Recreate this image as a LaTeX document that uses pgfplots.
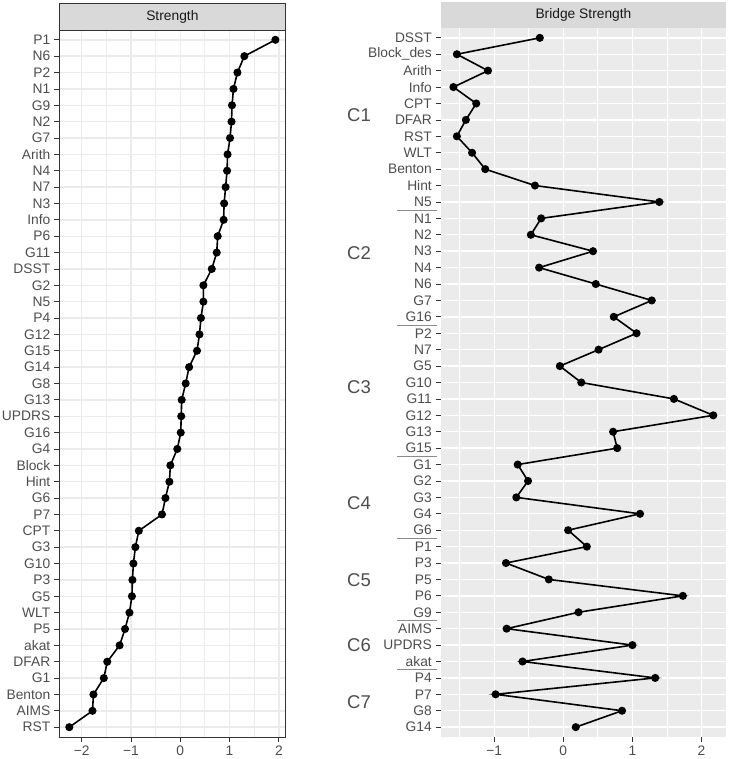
\documentclass[border=0pt]{standalone}
\usepackage{fontspec}
\setmainfont{Liberation Sans}
\usepackage{pgfplots}
\pgfplotsset{compat=1.18}
\definecolor{stripgrey}{HTML}{D9D9D9}
\definecolor{panelgrey}{HTML}{EBEBEB}
\definecolor{txtgrey}{HTML}{4D4D4D}
\definecolor{tickgrey}{HTML}{333333}
\definecolor{sepgrey}{HTML}{8C8C8C}
\newcommand\ggfont{\fontsize{13.8bp}{16bp}\selectfont}
\tikzset{
  sepline/.style={sepgrey, line width=0.8bp},
  clab/.style={font=\fontsize{18.5bp}{20bp}\selectfont, color=txtgrey, anchor=center},
}
\begin{document}
\begin{tikzpicture}
\useasboundingbox (0,0) rectangle (730bp,759bp);
\pgfplotsset{
  ggbase/.style={
    scale only axis, clip=false,
    ymin=0.4, ymax=43.6,
    ytick={1,...,43},
    xtick pos=left, ytick pos=left,
    tick align=outside,
    major tick length=5bp, minor tick length=0pt,
    every tick/.style={color=tickgrey, line width=0.8bp},
    minor xtick={-1.5,-0.5,0.5,1.5},
    xmajorgrids, xminorgrids, ymajorgrids,
    /pgf/number format/assume math mode=true,
    yticklabel style={font=\ggfont, color=txtgrey, anchor=east, inner sep=0pt, xshift=-3.5bp},
    xticklabel style={font=\ggfont, color=txtgrey, anchor=north, inner sep=0pt, yshift=-3.5bp},
  },
}
% ---------------- Left panel: Strength ----------------
\begin{axis}[ggbase, name=L,
  at={(59bp,22bp)}, anchor=south west,
  width=226.7bp, height=707bp,
  xmin=-2.459, xmax=2.139,
  xtick={-2,-1,0,1,2}, xticklabels={−2,−1,0,1,2},
  yticklabels={RST,AIMS,Benton,G1,DFAR,akat,P5,WLT,G5,P3,G10,G3,CPT,P7,G6,Hint,Block,G4,G16,UPDRS,G13,G8,G14,G15,G12,P4,N5,G2,DSST,G11,P6,Info,N3,N7,N4,Arith,G7,N2,G9,N1,P2,N6,P1},
  axis background/.style={fill=white},
  major grid style={color=panelgrey, line width=1.4bp},
  minor grid style={color=panelgrey, line width=0.8bp},
  axis line style={color=tickgrey, line width=0.9bp},
]
\addplot[black, line width=1.6bp, mark=*, mark size=3.2bp, mark options={solid, fill=black}] coordinates {
(1.93,43) (1.30,42) (1.16,41) (1.08,40) (1.05,39) (1.04,38) (1.01,37) (0.96,36) (0.95,35) (0.92,34) (0.89,33) (0.88,32) (0.76,31) (0.74,30) (0.64,29) (0.47,28) (0.47,27) (0.42,26) (0.39,25) (0.34,24) (0.18,23) (0.11,22) (0.03,21) (0.02,20) (0.01,19) (-0.06,18) (-0.20,17) (-0.22,16) (-0.30,15) (-0.37,14) (-0.84,13) (-0.91,12) (-0.95,11) (-0.97,10) (-0.98,9) (-1.03,8) (-1.12,7) (-1.23,6) (-1.48,5) (-1.55,4) (-1.76,3) (-1.78,2) (-2.25,1)
};
\end{axis}
\draw[fill=stripgrey, draw=tickgrey, line width=0.9bp] (L.north west) rectangle ([yshift=27bp]L.north east);
\node[font=\ggfont, color=black!90, anchor=center] at ([yshift=13.5bp]L.north) {Strength};
% ---------------- Right panel: Bridge Strength ----------------
\begin{axis}[ggbase, name=R,
  at={(440.5bp,22bp)}, anchor=south west,
  width=285.9bp, height=709bp,
  xmin=-1.777, xmax=2.36,
  xtick={-1,0,1,2}, xticklabels={−1,0,1,2},
  yticklabels={G14,G8,P7,P4,akat,UPDRS,AIMS,G9,P6,P5,P3,P1,G6,G4,G3,G2,G1,G15,G13,G12,G11,G10,G5,N7,P2,G16,G7,N6,N4,N3,N2,N1,N5,Hint,Benton,WLT,RST,DFAR,CPT,Info,Arith,Block\_des,DSST},
  axis background/.style={fill=panelgrey},
  major grid style={color=white, line width=1.4bp},
  minor grid style={color=white, line width=0.8bp},
  axis line style={draw=none},
]
\addplot[black, line width=1.6bp, mark=*, mark size=3.2bp, mark options={solid, fill=black}] coordinates {
(-0.34,43) (-1.54,42) (-1.09,41) (-1.59,40) (-1.26,39) (-1.41,38) (-1.54,37) (-1.32,36) (-1.13,35) (-0.41,34) (1.39,33) (-0.32,32) (-0.47,31) (0.43,30) (-0.35,29) (0.47,28) (1.28,27) (0.73,26) (1.06,25) (0.51,24) (-0.05,23) (0.26,22) (1.60,21) (2.17,20) (0.72,19) (0.78,18) (-0.66,17) (-0.51,16) (-0.68,15) (1.11,14) (0.07,13) (0.34,12) (-0.83,11) (-0.21,10) (1.73,9) (0.22,8) (-0.82,7) (1.00,6) (-0.59,5) (1.33,4) (-0.98,3) (0.85,2) (0.18,1)
};
% group separators
\draw[sepline] ([xshift=-43.5bp]axis cs:-1.777,32.5) -- ([xshift=-3.5bp]axis cs:-1.777,32.5);
\draw[sepline] ([xshift=-43.5bp]axis cs:-1.777,25.5) -- ([xshift=-3.5bp]axis cs:-1.777,25.5);
\draw[sepline] ([xshift=-43.5bp]axis cs:-1.777,17.5) -- ([xshift=-3.5bp]axis cs:-1.777,17.5);
\draw[sepline] ([xshift=-43.5bp]axis cs:-1.777,12.5) -- ([xshift=-3.5bp]axis cs:-1.777,12.5);
\draw[sepline] ([xshift=-43.5bp]axis cs:-1.777,7.5) -- ([xshift=-3.5bp]axis cs:-1.777,7.5);
\draw[sepline] ([xshift=-43.5bp]axis cs:-1.777,4.5) -- ([xshift=-3.5bp]axis cs:-1.777,4.5);
% cluster labels
\node[clab] at ([xshift=-81.5bp]axis cs:-1.777,38.32) {C1};
\node[clab] at ([xshift=-81.5bp]axis cs:-1.777,29.9) {C2};
\node[clab] at ([xshift=-81.5bp]axis cs:-1.777,21.74) {C3};
\node[clab] at ([xshift=-81.5bp]axis cs:-1.777,14.65) {C4};
\node[clab] at ([xshift=-81.5bp]axis cs:-1.777,9.95) {C5};
\node[clab] at ([xshift=-81.5bp]axis cs:-1.777,6.0) {C6};
\node[clab] at ([xshift=-81.5bp]axis cs:-1.777,2.5) {C7};
\end{axis}
\fill[stripgrey] (R.north west) rectangle ([yshift=26bp]R.north east);
\node[font=\ggfont, color=black!90, anchor=center] at ([yshift=13bp]R.north) {Bridge Strength};
\end{tikzpicture}
\end{document}
